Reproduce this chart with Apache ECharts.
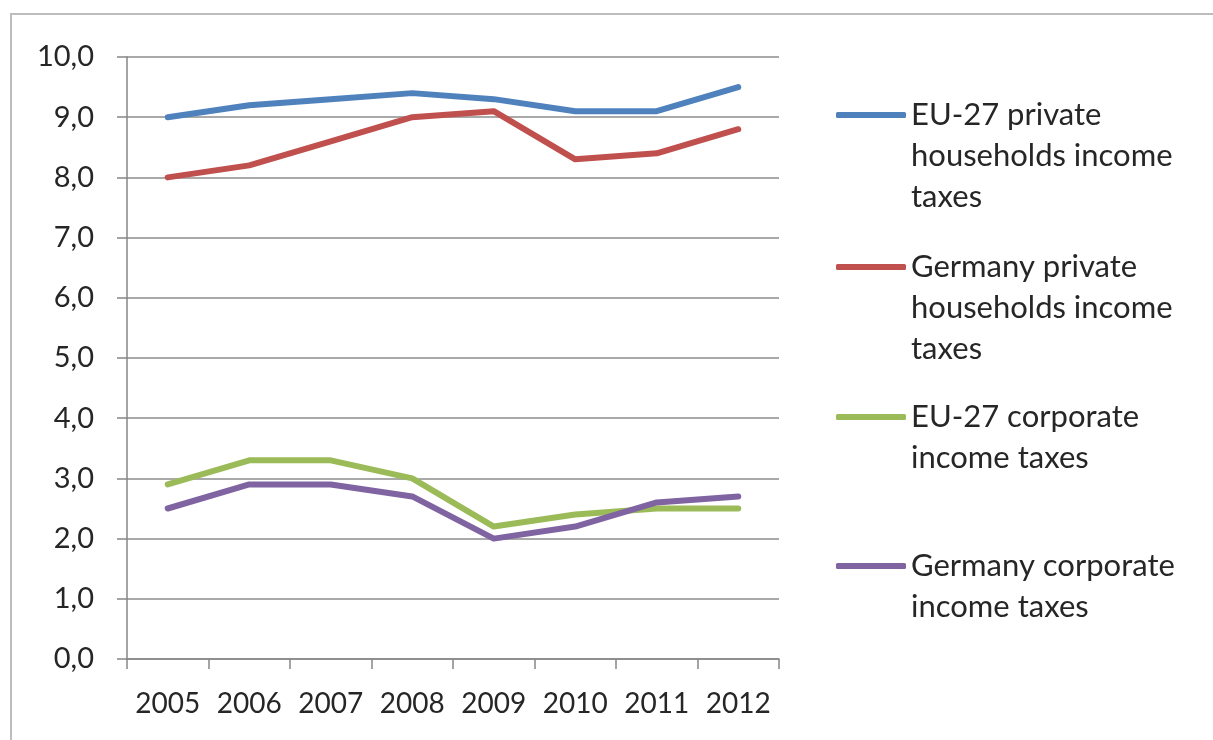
<!DOCTYPE html>
<html>
<head>
<meta charset="utf-8">
<title>Income taxes, EU-27 and Germany</title>
<script src="https://cdn.jsdelivr.net/npm/echarts@6/dist/echarts.min.js"></script>
<style>
  html, body { margin: 0; padding: 0; background: #ffffff; }
  #chart { width: 1213px; height: 740px; }
</style>
</head>
<body>
<div id="chart"></div>
<script>
// Years on the category axis
const years = ['2005', '2006', '2007', '2008', '2009', '2010', '2011', '2012'];

// Tax revenue, % of GDP
const eu27Households = [9.0, 9.2, 9.3, 9.4, 9.3, 9.1, 9.1, 9.5];
const germanyHouseholds = [8.0, 8.2, 8.6, 9.0, 9.1, 8.3, 8.4, 8.8];
const eu27Corporate = [2.9, 3.3, 3.3, 3.0, 2.2, 2.4, 2.5, 2.5];
const germanyCorporate = [2.5, 2.9, 2.9, 2.7, 2.0, 2.2, 2.6, 2.7];

// Legend labels (wrapped as shown next to the plot)
const seriesNames = [
  'EU-27 private\nhouseholds income\ntaxes',
  'Germany private\nhouseholds income\ntaxes',
  'EU-27 corporate\nincome taxes',
  'Germany corporate\nincome taxes'
];
const seriesColors = ['#4F81BD', '#C0504D', '#9BBB59', '#8064A2'];
const seriesData = [eu27Households, germanyHouseholds, eu27Corporate, germanyCorporate];

const FONT = 'Lato, "Open Sans", sans-serif';
const TEXT = '#262626';
const LINE_H = 41;
// y of each legend swatch
const legendY = [115, 267, 417, 566];

// One legend per entry; blank lines ahead of the label keep the swatch
// level with the first text line (the label block is centred on the swatch)
const legends = seriesNames.map(function (name, i) {
  const n = name.split('\n').length;
  const half = ((2 * n - 1) * LINE_H) / 2;
  const lead = new Array(n).join('\n');
  return {
    data: [name],
    left: 836,
    top: legendY[i] - half,
    orient: 'vertical',
    padding: 0,
    itemWidth: 70,
    itemHeight: 6,
    icon: 'roundRect',
    selectedMode: false,
    formatter: function (label) { return lead + label; },
    textStyle: {
      fontFamily: FONT,
      fontSize: 31,
      color: TEXT,
      lineHeight: LINE_H
    }
  };
});

const chart = echarts.init(document.getElementById('chart'), null, { renderer: 'canvas' });

chart.setOption({
  backgroundColor: '#ffffff',
  animation: false,
  color: seriesColors,
  graphic: [{
    type: 'rect',
    shape: { x: 11, y: 14, width: 1400, height: 900 },
    style: { fill: 'none', stroke: '#bdbdbd', lineWidth: 2 },
    silent: true,
    z: -1
  }],
  grid: { left: 127, right: 434, top: 57, bottom: 81, containLabel: false },
  legend: legends,
  xAxis: {
    type: 'category',
    data: years,
    boundaryGap: true,
    axisLine: { lineStyle: { color: '#868686', width: 1.5 } },
    axisTick: { show: true, length: 10, interval: 0, lineStyle: { color: '#868686', width: 1.5 } },
    axisLabel: { fontFamily: FONT, fontSize: 28, color: TEXT, margin: 31, interval: 0, hideOverlap: false },
    splitLine: { show: false }
  },
  yAxis: {
    type: 'value',
    min: 0,
    max: 10,
    interval: 1,
    axisLine: { show: true, lineStyle: { color: '#868686', width: 1.5 } },
    axisTick: { show: true, length: 10, lineStyle: { color: '#868686', width: 1.5 } },
    axisLabel: {
      fontFamily: FONT, fontSize: 29, color: TEXT, margin: 33,
      formatter: function (v) { return v.toFixed(1).replace('.', ','); }
    },
    splitLine: { show: true, lineStyle: { color: '#8c8c8c', width: 1.5 } }
  },
  series: seriesNames.map(function (name, i) {
    return {
      name: name,
      type: 'line',
      data: seriesData[i],
      symbol: 'none',
      smooth: false,
      lineStyle: { width: 6, color: seriesColors[i], cap: 'round', join: 'round' },
      itemStyle: { color: seriesColors[i] }
    };
  })
});
</script>
</body>
</html>
